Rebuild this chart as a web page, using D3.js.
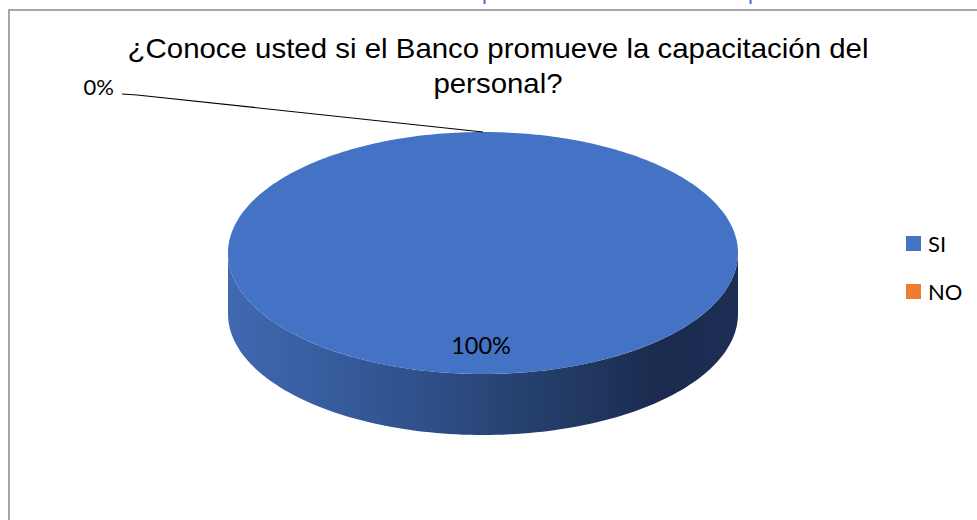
<!DOCTYPE html>
<html>
<head>
<meta charset="utf-8">
<script src="https://cdn.jsdelivr.net/npm/d3@7"></script>
<style>
  html, body { margin: 0; padding: 0; background: #fff; }
  svg { display: block; }
</style>
</head>
<body>
<svg id="chart" width="977" height="520"></svg>
<script>
// Survey answers
const categories = ["SI", "NO"];
const values = [100, 0];
const percentLabels = ["100%", "0%"];
const colors = ["#4472C4", "#ED7D31"];
const titleLines = ["¿Conoce usted si el Banco promueve la capacitación del", "personal?"];

const svg = d3.select("#chart");
const W = 977, H = 520;

// Chart frame
svg.append("rect")
  .attr("x", 9).attr("y", 10)
  .attr("width", W + 20).attr("height", H + 20)
  .attr("fill", "#fff").attr("stroke", "#a6a6a6").attr("stroke-width", 2);

// Heading of the page above the chart (only descenders remain visible)
svg.append("g").attr("fill", "#4472C4")
  .attr("font-family", "Liberation Sans, Arial, sans-serif").attr("font-size", 22)
  .selectAll("text").data([482, 748]).join("text")
  .attr("x", d => d).attr("y", -1).text("p");

// Title (slightly widened lettering)
svg.append("g").attr("transform", "translate(498,0) scale(1.09,1)")
  .append("text")
  .attr("font-family", "Liberation Sans, Arial, sans-serif")
  .attr("font-size", 27).attr("fill", "#000").attr("text-anchor", "middle")
  .selectAll("tspan").data(titleLines).join("tspan")
  .attr("x", 0).attr("y", (d, i) => 58.5 + i * 34.5).text(d => d);

// 3D pie geometry
const cx = 483, cy = 253, rx = 255, ry = 121, depth = 61;
const pie = d3.pie().sort(null).value(d => d)(values);
const pt = (a, dy = 0) => [cx + rx * Math.sin(a), cy - ry * Math.cos(a) + dy];

const defs = svg.append("defs");
const grad = defs.append("linearGradient").attr("id", "sideGrad")
  .attr("gradientUnits", "userSpaceOnUse")
  .attr("x1", cx - rx).attr("x2", cx + rx).attr("y1", 0).attr("y2", 0);
[[0, "#4169b1"], [0.35, "#30528e"], [0.6, "#253f6c"], [0.85, "#1b2b4f"], [1, "#1d2e55"]]
  .forEach(([o, c]) => grad.append("stop").attr("offset", o).attr("stop-color", c));

const line = d3.line();

// Side walls: the front half of each slice rim (angles between π/2 and 3π/2)
pie.forEach((s, i) => {
  const a0 = Math.max(s.startAngle, Math.PI / 2);
  const a1 = Math.min(s.endAngle, 3 * Math.PI / 2);
  if (a1 <= a0) return;
  const n = 120;
  const top = d3.range(n + 1).map(k => pt(a0 + (a1 - a0) * k / n));
  const bot = top.map(([x, y]) => [x, y + depth]).reverse();
  svg.append("path")
    .attr("d", line(top.concat(bot)) + "Z")
    .attr("fill", i === 0 ? "url(#sideGrad)" : d3.color(colors[i]).darker(1.2));
});

// Top faces
pie.forEach((s, i) => {
  if (s.endAngle - s.startAngle <= 0) return;
  const n = 360;
  const pts = d3.range(n + 1).map(k => pt(s.startAngle + (s.endAngle - s.startAngle) * k / n));
  const full = s.endAngle - s.startAngle >= 2 * Math.PI - 1e-9;
  const d = full ? line(pts) + "Z" : "M" + cx + "," + cy + "L" + line(pts).slice(1) + "Z";
  svg.append("path").attr("d", d).attr("fill", colors[i]);
});

// Data labels
const labelFont = "Lato, Calibri, sans-serif";
pie.forEach((s, i) => {
  const mid = (s.startAngle + s.endAngle) / 2;
  if (s.value > 0) {
    svg.append("text")
      .attr("x", 481).attr("y", 354)
      .attr("text-anchor", "middle").attr("font-family", labelFont).attr("font-size", 23.5)
      .attr("fill", "#000").text(percentLabels[i]);
  } else {
    // zero slice: label set outside with a leader line to its rim point
    const [ax, ay] = pt(mid);
    svg.append("path")
      .attr("d", line([[122, 94], [137, 95], [ax, ay]]))
      .attr("fill", "none").attr("stroke", "#000").attr("stroke-width", 1.2);
    svg.append("text")
      .attr("x", 114).attr("y", 94.5)
      .attr("text-anchor", "end").attr("font-family", labelFont).attr("font-size", 22)
      .attr("fill", "#000").text(percentLabels[i]);
  }
});

// Legend
const legend = svg.append("g").selectAll("g").data(categories).join("g")
  .attr("transform", (d, i) => `translate(906, ${236 + i * 48})`);
legend.append("rect").attr("width", 15).attr("height", 15).attr("fill", (d, i) => colors[i]);
legend.append("text").attr("x", 22).attr("y", 15.5)
  .attr("font-family", labelFont).attr("font-size", 22).attr("fill", "#000").text(d => d);
</script>
</body>
</html>
